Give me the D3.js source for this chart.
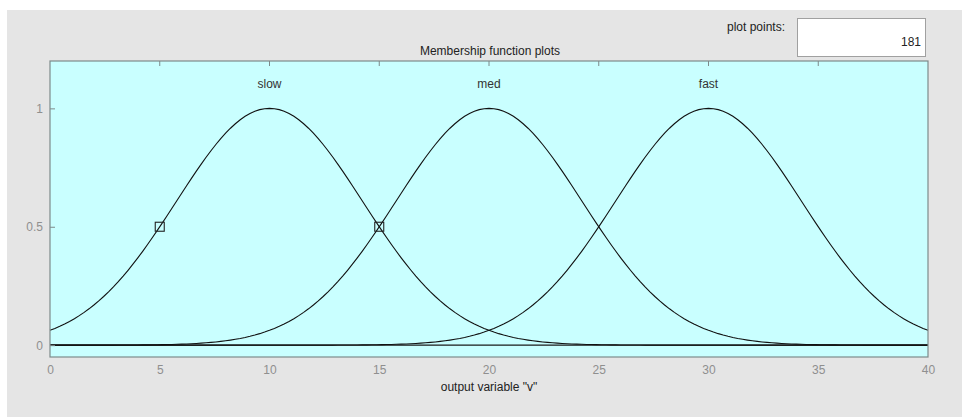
<!DOCTYPE html>
<html>
<head>
<meta charset="utf-8">
<script src="https://cdn.jsdelivr.net/npm/d3@7"></script>
<style>
  html, body { margin: 0; padding: 0; background: #ffffff; }
  svg { display: block; font-family: "Liberation Sans Narrow", "Arial Narrow", "Liberation Sans", sans-serif; }
</style>
</head>
<body>
<svg id="chart" width="962" height="417"></svg>
<script>
// Gaussian membership functions of the output variable "v"
const mfNames = ["slow", "med", "fast"];
const mfCenters = [10, 20, 30];
const mfSigmas = [4.247, 4.247, 4.247];
const xRange = [0, 40];
const yRange = [-0.05, 1.2];
const xTicks = [0, 5, 10, 15, 20, 25, 30, 35, 40];
const yTicks = [0, 0.5, 1];
const plotPoints = 181;
// parameter handles of the selected function (slow): sigma point and the crossing
const handleX = [5, 15];

const svg = d3.select("#chart");
const W = 962, H = 417;

// figure panel
svg.append("rect").attr("x", 7).attr("y", 10).attr("width", W - 7).attr("height", H - 10)
  .attr("fill", "#e5e5e5");

const m = { left: 50, right: 928, top: 61, bottom: 357 };
const x = d3.scaleLinear().domain(xRange).range([m.left, m.right]);
const y = d3.scaleLinear().domain(yRange).range([m.bottom, m.top]);

// axes background
svg.append("rect").attr("x", m.left).attr("y", m.top)
  .attr("width", m.right - m.left).attr("height", m.bottom - m.top)
  .attr("fill", "#c9ffff");

// zero line
svg.append("line").attr("x1", x(xRange[0])).attr("x2", x(xRange[1]))
  .attr("y1", y(0)).attr("y2", y(0)).attr("stroke", "#1a1a1a").attr("stroke-width", 1.3);

// curves
const samples = d3.range(plotPoints).map(i => xRange[0] + i * (xRange[1] - xRange[0]) / (plotPoints - 1));
const gauss = (v, c, s) => Math.exp(-((v - c) ** 2) / (2 * s * s));
const line = d3.line().x(d => x(d[0])).y(d => y(d[1]));
mfNames.forEach((name, i) => {
  const pts = samples.map(v => [v, gauss(v, mfCenters[i], mfSigmas[i])]);
  svg.append("path").attr("d", line(pts)).attr("fill", "none")
    .attr("stroke", "#111").attr("stroke-width", 1.1);
  svg.append("text").attr("x", x(mfCenters[i])).attr("y", 88)
    .attr("text-anchor", "middle").attr("font-size", 12).attr("fill", "#333")
    .text(name);
});

// handles
handleX.forEach(hx => {
  const hy = gauss(hx, mfCenters[0], mfSigmas[0]);
  svg.append("rect").attr("x", x(hx) - 4.5).attr("y", y(hy) - 4.5)
    .attr("width", 9).attr("height", 9).attr("fill", "none")
    .attr("stroke", "#222").attr("stroke-width", 1.1);
});

// axes box
svg.append("rect").attr("x", m.left).attr("y", m.top)
  .attr("width", m.right - m.left).attr("height", m.bottom - m.top)
  .attr("fill", "none").attr("stroke", "#7d8a8a").attr("stroke-width", 1.2);

// bottom axis
const xAxis = svg.append("g").attr("transform", `translate(0,${m.bottom})`)
  .call(d3.axisBottom(x).tickValues(xTicks).tickSize(0).tickPadding(8).tickFormat(d3.format("d")));
xAxis.select(".domain").remove();
xAxis.selectAll("text").attr("font-size", 12).attr("fill", "#8f8f8f")
  .attr("font-family", "Liberation Sans Narrow, Arial Narrow, sans-serif");
// inward ticks along the top edge
svg.append("g").selectAll("line").data(xTicks.slice(1, -1)).join("line")
  .attr("x1", d => x(d)).attr("x2", d => x(d))
  .attr("y1", m.top).attr("y2", m.top + 5).attr("stroke", "#7d8a8a");

// left axis
const yAxis = svg.append("g").attr("transform", `translate(${m.left},0)`)
  .call(d3.axisLeft(y).tickValues(yTicks).tickSize(-5).tickPadding(7).tickFormat(d3.format("")));
yAxis.select(".domain").remove();
yAxis.selectAll("line").attr("stroke", "#7d8a8a");
yAxis.selectAll("text").attr("font-size", 12).attr("fill", "#8f8f8f")
  .attr("font-family", "Liberation Sans Narrow, Arial Narrow, sans-serif");

// titles
svg.append("text").attr("x", 490).attr("y", 55).attr("text-anchor", "middle")
  .attr("font-size", 12).attr("fill", "#222").text("Membership function plots");
svg.append("text").attr("x", 489).attr("y", 391).attr("text-anchor", "middle")
  .attr("font-size", 12).attr("fill", "#222").text('output variable "v"');

// plot points control
svg.append("text").attr("x", 785).attr("y", 31).attr("text-anchor", "end")
  .attr("font-size", 12).attr("fill", "#222").text("plot points:");
svg.append("rect").attr("x", 797.5).attr("y", 18.5).attr("width", 128).attr("height", 38)
  .attr("fill", "#ffffff").attr("stroke", "#a0a0a0");
svg.append("text").attr("x", 921).attr("y", 46).attr("text-anchor", "end")
  .attr("font-size", 12).attr("fill", "#222").text(plotPoints);
</script>
</body>
</html>
